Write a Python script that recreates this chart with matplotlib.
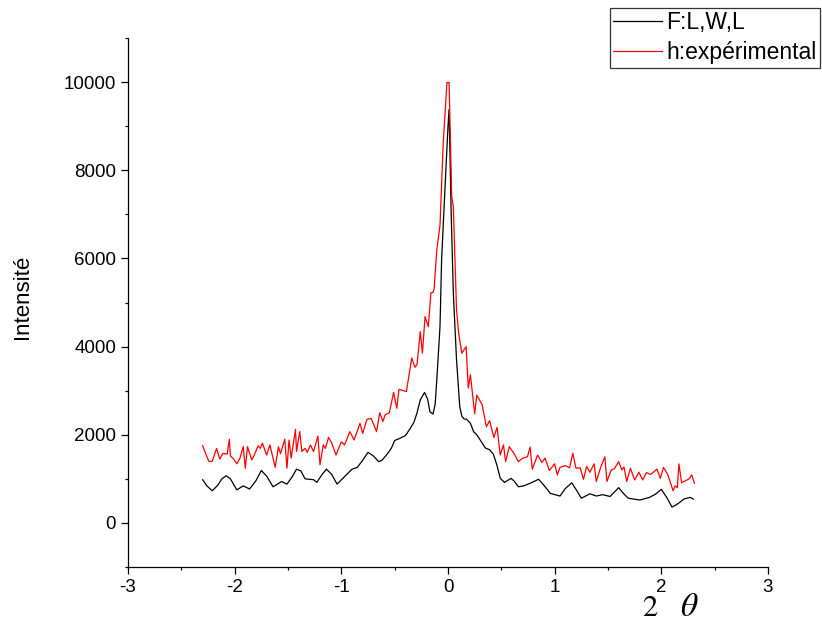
import numpy
import matplotlib as mpl
mpl.use('Agg')
import matplotlib.pyplot as plt
from matplotlib.ticker import MultipleLocator

plt.rcParams['font.family'] = ['Liberation Sans', 'DejaVu Sans']
plt.rcParams['mathtext.fontset'] = 'stix'
plt.rcParams['axes.unicode_minus'] = False

# F:L,W,L (smooth fit)
fit_x = [-2.30, -2.26, -2.21, -2.16, -2.12, -2.08, -2.04, -1.98, -1.92, -1.86,
         -1.80, -1.75, -1.70, -1.64, -1.56, -1.51, -1.46, -1.42, -1.38, -1.34,
         -1.26, -1.23, -1.18, -1.14, -1.09, -1.04, -0.97, -0.90, -0.85, -0.80,
         -0.75, -0.70, -0.65, -0.62, -0.57, -0.53, -0.50, -0.45, -0.40, -0.36,
         -0.32, -0.29, -0.26, -0.22, -0.19, -0.17, -0.14, -0.12, -0.105, -0.075,
         -0.06, -0.03, 0.00, 0.01, 0.03, 0.05, 0.08, 0.11, 0.13, 0.15,
         0.175, 0.21, 0.24, 0.27, 0.31, 0.35, 0.39, 0.425, 0.46, 0.49,
         0.53, 0.59, 0.62, 0.66, 0.71, 0.77, 0.85, 0.90, 0.96, 1.05,
         1.10, 1.16, 1.20, 1.25, 1.33, 1.39, 1.45, 1.52, 1.56, 1.60,
         1.64, 1.69, 1.80, 1.89, 1.95, 2.00, 2.05, 2.10, 2.14, 2.18,
         2.21, 2.27, 2.30]
fit_y = [980, 840, 730, 850, 1000, 1070, 1000, 750, 840, 770,
         960, 1190, 1060, 820, 940, 880, 1050, 1220, 1180, 1000,
         980, 920, 1100, 1220, 1100, 880, 1050, 1220, 1260, 1420,
         1600, 1520, 1390, 1420, 1560, 1700, 1870, 1920, 1980, 2120,
         2280, 2500, 2790, 2960, 2800, 2520, 2470, 2700, 3250, 4450,
         5970, 7500, 9000, 9380, 7000, 5210, 3700, 2640, 2420, 2360,
         2350, 2260, 2070, 2000, 1850, 1700, 1660, 1560, 1300, 1010,
         920, 1010, 950, 820, 840, 900, 990, 850, 670, 610,
         780, 910, 760, 560, 660, 610, 640, 600, 700, 800,
         680, 560, 520, 580, 660, 760, 580, 360, 410, 480,
         540, 580, 540]

# h:expérimental (noisy measurement)
exp_x = [-2.30, -2.26, -2.24, -2.21, -2.17, -2.14, -2.11, -2.07, -2.05, -2.04,
         -2.01, -1.98, -1.95, -1.92, -1.90, -1.88, -1.84, -1.82, -1.78, -1.76,
         -1.74, -1.70, -1.67, -1.62, -1.59, -1.57, -1.53, -1.51, -1.49, -1.47,
         -1.43, -1.42, -1.39, -1.37, -1.34, -1.32, -1.29, -1.26, -1.22, -1.20,
         -1.17, -1.15, -1.12, -1.09, -1.05, -1.00, -0.97, -0.92, -0.88, -0.825,
         -0.80, -0.76, -0.72, -0.67, -0.64, -0.61, -0.59, -0.55, -0.51, -0.48,
         -0.46, -0.42, -0.39, -0.34, -0.31, -0.29, -0.26, -0.24, -0.215, -0.185,
         -0.16, -0.14, -0.13, -0.105, -0.075, -0.045, -0.01, 0.01, 0.035, 0.05,
         0.08, 0.10, 0.13, 0.17, 0.19, 0.21, 0.25, 0.27, 0.32, 0.36,
         0.39, 0.43, 0.46, 0.49, 0.52, 0.54, 0.575, 0.62, 0.66, 0.70,
         0.745, 0.77, 0.79, 0.84, 0.88, 0.91, 0.95, 1.00, 1.025, 1.05,
         1.10, 1.14, 1.17, 1.20, 1.24, 1.27, 1.30, 1.33, 1.37, 1.39,
         1.43, 1.47, 1.49, 1.53, 1.56, 1.60, 1.63, 1.65, 1.675, 1.71,
         1.75, 1.79, 1.825, 1.86, 1.90, 1.96, 1.99, 2.02, 2.06, 2.11,
         2.13, 2.15, 2.165, 2.19, 2.23, 2.26, 2.285, 2.31]
exp_y = [1750, 1500, 1390, 1400, 1690, 1450, 1580, 1560, 1900, 1520,
         1450, 1340, 1470, 1730, 1240, 1730, 1430, 1520, 1750, 1690,
         1810, 1540, 1770, 1260, 1730, 1570, 1900, 1240, 1880, 1470,
         2120, 1620, 2070, 1620, 1690, 1600, 1770, 1620, 1970, 1320,
         1770, 1690, 1940, 1810, 1540, 1840, 1770, 2070, 1880, 2260,
         2030, 2350, 2370, 2070, 2500, 2300, 2450, 2500, 2960, 2600,
         3030, 3000, 2980, 3740, 3530, 3600, 4340, 3850, 4680, 4450,
         5220, 5230, 5320, 6190, 6750, 8600, 9990, 9990, 7400, 7170,
         4830, 4300, 3850, 4000, 3060, 3360, 2480, 2900, 2680, 2180,
         2320, 1940, 2170, 1540, 1770, 1390, 1730, 1570, 1390, 1470,
         1500, 1720, 1220, 1540, 1370, 1470, 1190, 1340, 1090, 1260,
         1300, 1250, 1580, 1240, 1250, 990, 1280, 1150, 1340, 940,
         1250, 1500, 940, 1200, 1230, 1390, 1200, 1270, 940, 1240,
         975, 1150, 975, 1140, 1100, 1220, 1010, 1260, 1100, 730,
         840, 800, 1340, 910, 960, 1000, 1090, 900]

fig = plt.figure(figsize=(8.22, 6.24), dpi=100)
ax = fig.add_axes([128 / 822, 1 - 567 / 624, 640 / 822, 529 / 624])

l1, = ax.plot(fit_x, fit_y, color='black', lw=0.9, label='F:L,W,L')
l2, = ax.plot(exp_x, exp_y, color='#ff0000', lw=0.9, label='h:expérimental')

ax.set_xlim(-3, 3)
ax.set_ylim(-1000, 11000)
ax.xaxis.set_major_locator(MultipleLocator(1))
ax.xaxis.set_minor_locator(MultipleLocator(0.5))
ax.set_yticks(numpy.arange(0, 10001, 2000))
ax.yaxis.set_minor_locator(MultipleLocator(1000))
ax.tick_params(which='major', direction='out', length=5, width=0.9, labelsize=13.5)
ax.tick_params(which='minor', direction='out', length=2.5, width=0.9)
for s in ['top', 'right']:
    ax.spines[s].set_visible(False)
for s in ['left', 'bottom']:
    ax.spines[s].set_linewidth(0.9)

fig.text(22 / 822, 1 - 297 / 624, 'Intensité', rotation=90, fontsize=16,
         ha='center', va='center')
# x label "2θ": serif, upright 2 and an italic theta
fig.text(650 / 822, 1 - 608 / 624, r'$2$', fontsize=22, ha='center', va='center')
fig.text(689 / 822, 1 - 608 / 624, r'$\theta$', fontsize=24, ha='center', va='center')

leg = fig.legend(handles=[l1, l2], loc='upper left',
                 bbox_to_anchor=(610 / 822, 1 - 8 / 624), fontsize=16.5,
                 frameon=True, fancybox=False, handlelength=2.1,
                 handletextpad=0.2, borderpad=0.15, labelspacing=0.3,
                 borderaxespad=0)
leg.get_frame().set_edgecolor('black')
leg.get_frame().set_linewidth(0.9)

fig.savefig('out.png', dpi=100)
